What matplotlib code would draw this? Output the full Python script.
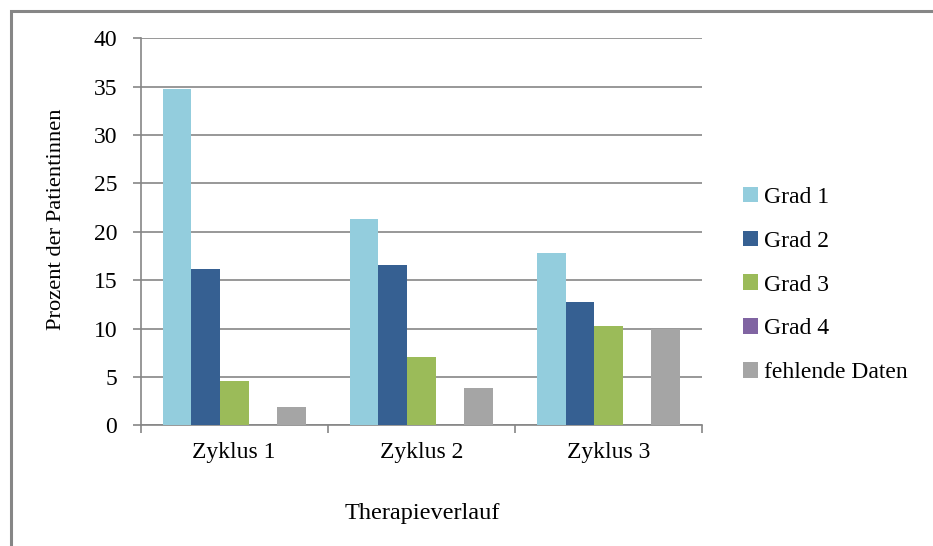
import matplotlib
matplotlib.use("Agg")
import matplotlib.pyplot as plt
import numpy as np
from matplotlib.patches import Rectangle

plt.rcParams['font.family'] = ['Liberation Serif', 'DejaVu Serif']

# Data: percent of patients per toxicity grade and therapy cycle
categories = ["Zyklus 1", "Zyklus 2", "Zyklus 3"]
series_names = ["Grad 1", "Grad 2", "Grad 3", "Grad 4", "fehlende Daten"]
grad1 = [34.75, 21.3, 17.8]
grad2 = [16.15, 16.6, 12.75]
grad3 = [4.6, 7.05, 10.25]
grad4 = [0.0, 0.0, 0.0]
fehlend = [1.9, 3.85, 9.95]
yticks = [0, 5, 10, 15, 20, 25, 30, 35, 40]

colors = ["#93CDDD", "#366092", "#9BBB59", "#8064A2", "#A5A5A5"]
grid_gray = "#868686"

W, H = 933, 546
fig = plt.figure(figsize=(W / 100, H / 100), dpi=100)

ax = fig.add_axes([140.7 / W, 1 - 425.3 / H, (702 - 140.7) / W, (425.3 - 38.3) / H])

x = np.arange(len(categories))
bw = 0.153
all_series = [grad1, grad2, grad3, grad4, fehlend]
for i, (vals, name, c) in enumerate(zip(all_series, series_names, colors)):
    ax.bar(x + (i - 2) * bw, vals, width=bw, color=c, label=name, linewidth=0, zorder=3)

ax.set_xlim(-0.5, len(categories) - 0.5)
ax.set_ylim(0, 40)
ax.set_yticks(yticks)
ax.set_yticklabels([str(t) for t in yticks])
ax.yaxis.grid(True, color=grid_gray, linewidth=1.2, zorder=0)
ax.set_axisbelow(True)

ax.set_xticks(x)
ax.set_xticklabels(categories)
ax.set_xticks(np.arange(-0.5, len(categories)), minor=True)
ax.tick_params(axis='x', which='major', length=0, pad=12, labelsize=17)
ax.tick_params(axis='x', which='minor', length=6, width=1.2, color=grid_gray, direction='out')
ax.tick_params(axis='y', length=6, width=1.2, color=grid_gray, direction='out', pad=11, labelsize=17)

for s in ['top', 'right']:
    ax.spines[s].set_visible(False)
for s in ['left', 'bottom']:
    ax.spines[s].set_color(grid_gray)
    ax.spines[s].set_linewidth(1.2)

fig.text(57 / W, 1 - 219 / H, "Prozent der Patientinnen", rotation=90,
         ha='center', va='center', fontsize=16.2)
fig.text(422 / W, 1 - 513 / H, "Therapieverlauf", ha='center', va='center', fontsize=17.5)

leg = fig.legend(loc='center left', bbox_to_anchor=(743 / W, 1 - 285 / H),
                 frameon=False, fontsize=17, handlelength=0.65, handleheight=0.65,
                 handletextpad=0.25, labelspacing=0.96, borderpad=0, borderaxespad=0)

# Outer chart frame (left and top edges visible)
fig.patches.append(Rectangle((10.5 / W, -0.1), 1.2, 1.1 - 11.5 / H,
                             transform=fig.transFigure, fill=False,
                             edgecolor=grid_gray, linewidth=2.2, zorder=0))

fig.savefig("out.png", dpi=100)
